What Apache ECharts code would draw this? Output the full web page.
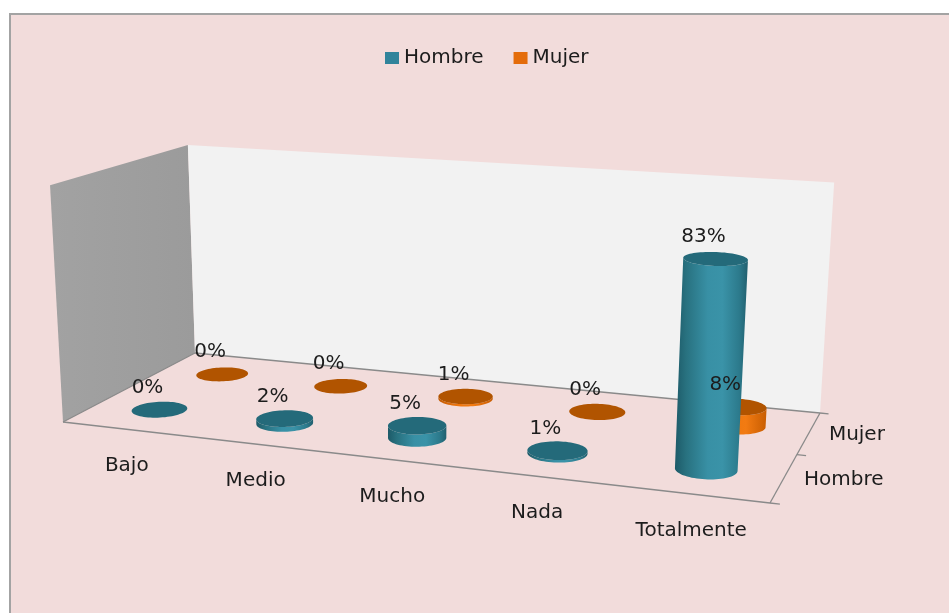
<!DOCTYPE html>
<html>
<head>
<meta charset="utf-8">
<script src="https://cdn.jsdelivr.net/npm/echarts@6/dist/echarts.min.js"></script>
<style>
  html, body { margin: 0; padding: 0; background: #ffffff; }
  #chart { width: 949px; height: 613px; }
</style>
</head>
<body>
<div id="chart"></div>
<script>
// ---- data ----
const categories = ['Bajo', 'Medio', 'Mucho', 'Nada', 'Totalmente'];
const rows = ['Hombre', 'Mujer'];
const hombre = [0, 2, 5, 1, 83];
const mujer = [0, 0, 1, 0, 8];
const valueMax = 100;

// ---- 3D box layout (screen px) ----
// floor corners: front-left, front-right, back-right, back-left
const FLOOR = [[63, 422], [770, 503], [820, 413], [195, 353]];
// full wall height (px) at the same four corners
const WALL_H = [237, 265, 231, 208];
// vanishing point of the vertical edges
const VERT_VP = [420, 6937];

const FONT = 'DejaVu Sans';
const TEXT = '#1c1c1c';
const EDGE = '#8A8A8A';

// square -> quadrilateral perspective mapping
function homography(q) {
  const [x0, y0] = q[0], [x1, y1] = q[1], [x2, y2] = q[2], [x3, y3] = q[3];
  const dx1 = x1 - x2, dx2 = x3 - x2, dx3 = x0 - x1 + x2 - x3;
  const dy1 = y1 - y2, dy2 = y3 - y2, dy3 = y0 - y1 + y2 - y3;
  const den = dx1 * dy2 - dx2 * dy1;
  const g = (dx3 * dy2 - dx2 * dy3) / den;
  const h = (dx1 * dy3 - dx3 * dy1) / den;
  const a = x1 - x0 + g * x1, b = x3 - x0 + h * x3, c = x0;
  const d = y1 - y0 + g * y1, e = y3 - y0 + h * y3, f = y0;
  return function (u, v) {
    const w = g * u + h * v + 1;
    return [(a * u + b * v + c) / w, (d * u + e * v + f) / w];
  };
}
const floorMap = homography(FLOOR);

function wallHeight(s, t) {
  const front = WALL_H[0] + (WALL_H[1] - WALL_H[0]) * s;
  const back = WALL_H[3] + (WALL_H[2] - WALL_H[3]) * s;
  return front + (back - front) * t;
}

// s: along categories (0..1), t: depth front->back (0..1), k: height fraction (0..1)
function project(s, t, k) {
  const p = floorMap(s, t);
  const dx = p[0] - VERT_VP[0], dy = p[1] - VERT_VP[1];
  const len = Math.sqrt(dx * dx + dy * dy);
  const f = 1 + k * wallHeight(s, t) / len;
  return [VERT_VP[0] + dx * f, VERT_VP[1] + dy * f];
}

const RS = 0.04;                                   // cylinder radius along categories
const RT = RS * categories.length / rows.length;   // same physical radius along depth
const SEG = 72;

function cylinderSeries(name, values, rowIndex, pal, zBase) {
  return {
    type: 'custom',
    name: name,
    coordinateSystem: 'cartesian2d',
    itemStyle: { color: pal.legend },
    data: values.map((v, i) => [i, v]),
    renderItem: function (params, api) {
      const cs = params.coordSys;
      const i = api.value(0), v = api.value(1);
      const p0 = api.coord([i, 0]);
      const p1 = api.coord([i, v]);
      const s = (p0[0] - cs.x) / cs.width;
      const k = (p0[1] - p1[1]) / cs.height;
      const t = (rowIndex + 0.5) / rows.length;

      const bottom = [], top = [];
      for (let j = 0; j < SEG; j++) {
        const a = 2 * Math.PI * j / SEG;
        const ss = s + RS * Math.cos(a), tt = t + RT * Math.sin(a);
        bottom.push(project(ss, tt, 0));
        top.push(project(ss, tt, k));
      }
      let iL = 0, iR = 0;
      bottom.forEach((p, j) => {
        if (p[0] < bottom[iL][0]) iL = j;
        if (p[0] > bottom[iR][0]) iR = j;
      });
      const children = [];
      if (k > 0.001) {
        const body = [];
        let j = iL;
        while (true) { body.push(bottom[j]); if (j === iR) break; j = (j + 1) % SEG; }
        j = iR;
        while (true) { body.push(top[j]); if (j === iL) break; j = (j - 1 + SEG) % SEG; }
        children.push({
          type: 'polygon',
          z2: zBase,
          shape: { points: body },
          style: { fill: new echarts.graphic.LinearGradient(0, 0, 1, 0, pal.body) }
        });
      }
      children.push({
        type: 'polygon',
        z2: zBase + 1,
        shape: { points: top },
        style: { fill: pal.cap }
      });
      const c = project(s, t, k);
      children.push({
        type: 'text',
        z2: 100,
        x: c[0] - 12,
        y: c[1] - 22,
        style: {
          text: v + '%',
          fill: TEXT,
          font: '20px "' + FONT + '"',
          align: 'center',
          verticalAlign: 'middle'
        }
      });
      return { type: 'group', children: children };
    }
  };
}

// walls, floor edges and axis labels of the 3D box
const frameSeries = {
  type: 'custom',
  name: 'frame',
  coordinateSystem: 'cartesian2d',
  data: [[0, 0]],
  silent: true,
  renderItem: function () {
    const ch = [];
    const leftWall = [project(0, 0, 0), project(0, 1, 0), project(0, 1, 1), project(0, 0, 1)];
    const backWall = [project(0, 1, 0), project(1, 1, 0), project(1, 1, 1), project(0, 1, 1)];
    ch.push({ type: 'polygon', z2: 0, shape: { points: leftWall },
      style: { fill: new echarts.graphic.LinearGradient(0, 0, 1, 0, [
        { offset: 0, color: '#A2A2A2' }, { offset: 1, color: '#9B9B9B' }]) } });
    ch.push({ type: 'polygon', z2: 0, shape: { points: backWall },
      style: { fill: '#F2F2F2' } });
    const edge = (a, b) => ch.push({ type: 'line', z2: 1,
      shape: { x1: a[0], y1: a[1], x2: b[0], y2: b[1] },
      style: { stroke: EDGE, lineWidth: 1.3 } });
    edge(project(0, 0, 0), project(1, 0, 0));
    edge(project(1, 0, 0), project(1, 1, 0));
    edge(project(0, 1, 0), project(1, 1, 0));
    edge(project(0, 0, 0), project(0, 1, 0));
    // depth-axis ticks
    [0, 0.5, 1].forEach(t => edge(project(1, t, 0), project(1.012, t, 0)));
    // category labels along the front edge
    categories.forEach((name, i) => {
      const p = project((i + 0.5) / categories.length, 0, 0);
      ch.push({ type: 'text', z2: 1, x: p[0] + 2, y: p[1] + 37,
        style: { text: name, fill: TEXT, font: '20px "' + FONT + '"',
          align: 'center', verticalAlign: 'middle' } });
    });
    // series labels along the right edge
    rows.forEach((name, r) => {
      const p = project(1, (r + 0.5) / rows.length, 0);
      ch.push({ type: 'text', z2: 1, x: p[0] + 20, y: p[1] + 2,
        style: { text: name, fill: TEXT, font: '20px "' + FONT + '"',
          align: 'left', verticalAlign: 'middle' } });
    });
    return { type: 'group', children: ch };
  }
};

const chart = echarts.init(document.getElementById('chart'), null, { renderer: 'canvas' });
chart.setOption({
  animation: false,
  backgroundColor: '#ffffff',
  graphic: [{
    type: 'rect',
    z: 0,
    shape: { x: 10, y: 14, width: 960, height: 620 },
    style: { fill: '#F2DCDB', stroke: '#A3A3A3', lineWidth: 2 }
  }],
  legend: {
    data: rows,
    left: 380,
    top: 43,
    itemWidth: 14,
    itemHeight: 12,
    itemGap: 30,
    icon: 'rect',
    textStyle: { fontFamily: FONT, fontSize: 20, color: TEXT }
  },
  grid: { left: 63, top: 100, width: 707, height: 300 },
  xAxis: { type: 'category', data: categories, show: false },
  yAxis: { type: 'value', min: 0, max: valueMax, show: false },
  series: [
    frameSeries,
    cylinderSeries('Mujer', mujer, 1, {
      legend: '#E46C0A',
      cap: '#B15400',
      body: [
        { offset: 0, color: '#C25A02' }, { offset: 0.35, color: '#EE760E' },
        { offset: 0.65, color: '#F27B12' }, { offset: 1, color: '#C85D02' }
      ]
    }, 10),
    cylinderSeries('Hombre', hombre, 0, {
      legend: '#31849B',
      cap: '#246A7A',
      body: [
        { offset: 0, color: '#1D5A68' }, { offset: 0.15, color: '#28717F' },
        { offset: 0.45, color: '#3890A5' }, { offset: 0.65, color: '#3A93A8' },
        { offset: 0.88, color: '#2C7A8C' }, { offset: 1, color: '#215F6E' }
      ]
    }, 20)
  ]
});
</script>
</body>
</html>
